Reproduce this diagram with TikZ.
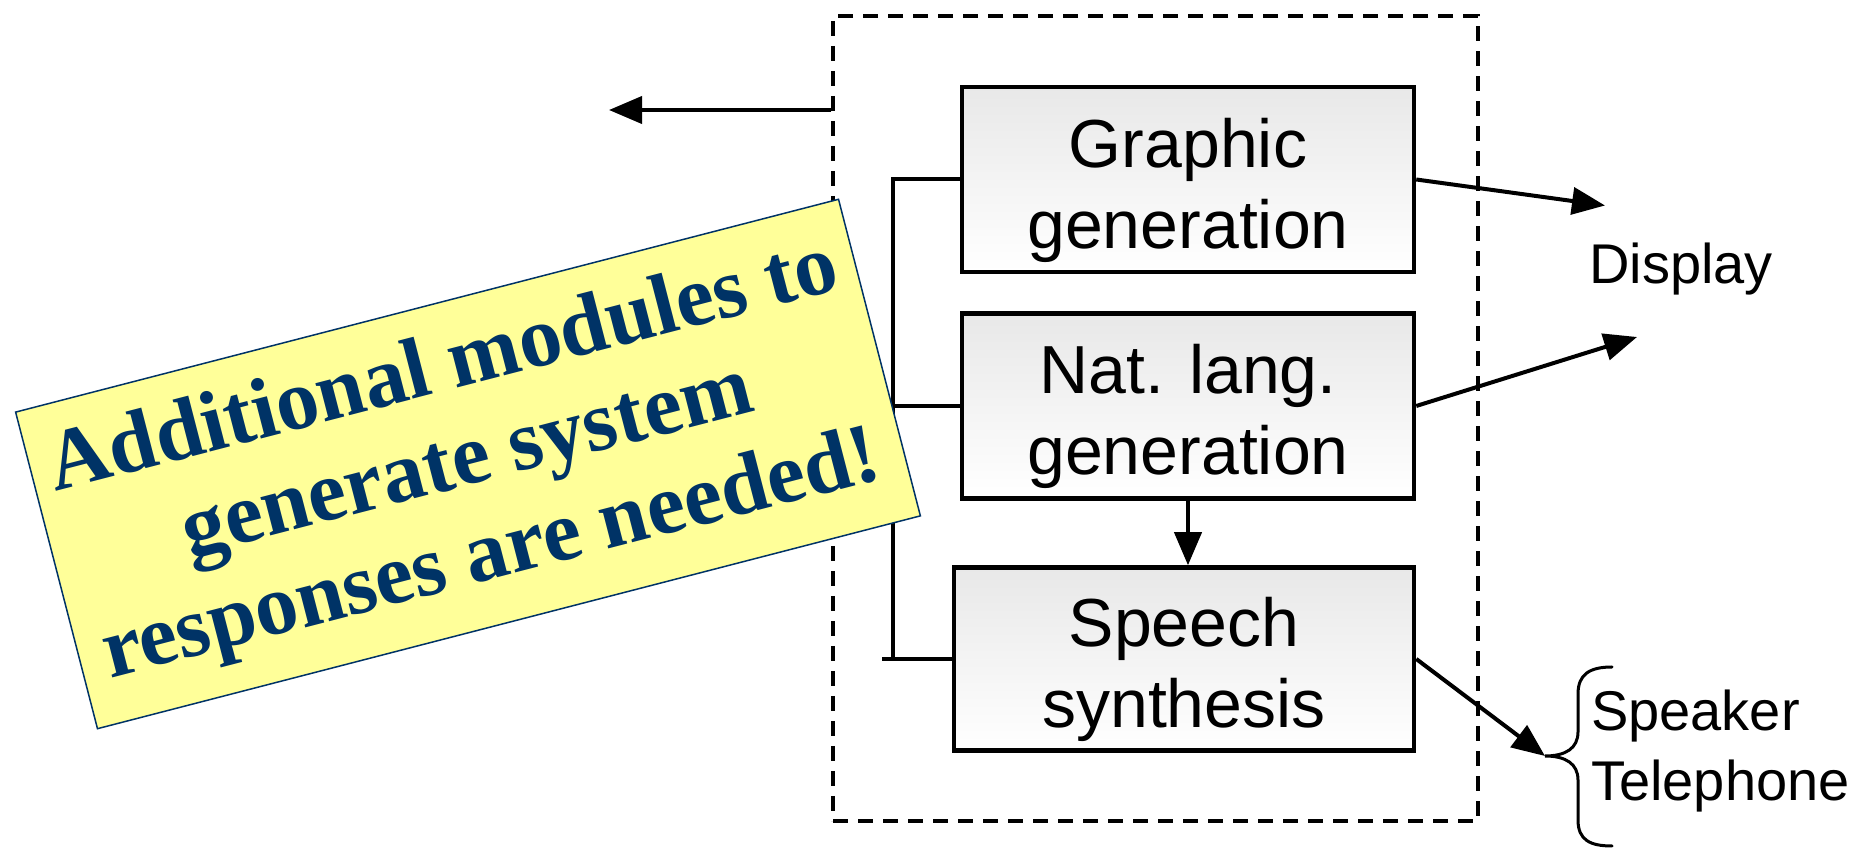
\documentclass[tikz,border=0pt]{standalone}
\usepackage{fontspec}
\setmainfont{Liberation Sans}
\newfontfamily\notefont{Liberation Serif}
\usetikzlibrary{arrows.meta,calc}
\definecolor{navy}{HTML}{003366}
\definecolor{noteyellow}{HTML}{FFFF99}
\begin{document}
\begin{tikzpicture}[x=1pt,y=1pt,
  module/.style={draw, line width=4.5pt, top color=gray!18, bottom color=white,
    minimum width=452pt, minimum height=185pt, inner sep=0pt},
  modtext/.style={align=center, inner sep=0pt, font=\fontsize{68}{81}\selectfont},
  frame/.style={draw, line width=3.5pt, dash pattern=on 15pt off 10pt,
    minimum width=645pt, minimum height=805pt, inner sep=0pt},
  conn/.style={line width=4pt},
  arr/.style={conn, -{Triangle[length=33pt,width=27pt]}},
  label/.style={font=\fontsize{56}{70}\selectfont, align=left, inner sep=0pt},
  note/.style={draw=navy, line width=1.5pt, fill=noteyellow, text=navy,
    minimum width=850pt, minimum height=327pt, align=center, inner sep=0pt,
    font=\notefont\bfseries\fontsize{86}{97}\selectfont},
]
\useasboundingbox (0,0) rectangle (1874,848);

% dashed frame around the generation modules
\node[frame] (frame) at (1155.5,429.5) {};

% the three generation modules, text set slightly low in each box
\node[module] (G) at (1188,668.5) {};
\node[module] (N) at (1188,442) {};
\node[module, minimum width=460pt, minimum height=183pt] (S) at (1184,189) {};
\node[modtext] (Gt) at ($(G.center)+(0,-10.5)$) {Graphic\\generation};
\node[modtext] (Nt) at ($(N.center)+(0,-10.5)$) {Nat. lang.\\generation};
\node[modtext] (St) at ($(S.center)+(0,-10.5)$) {Speech\\synthesis};

% outgoing arrow on the left
\coordinate (outL) at (609,738);
\draw[arr] (frame.west |- outL) -- (outL);

% common input bus on the left of the modules
\draw[conn] (G.west) -- ++(-67,0) coordinate (bt) -- (bt |- S.west) coordinate (bb);
\draw[conn] (S.west) -- ($(bb)+(-11,0)$);
\draw[conn] (N.west) -- (N.west -| bt);

% internal flow
\draw[arr] (N.south) -- (N.south |- S.north);

% outputs
\coordinate (dA) at (1605,642.5);
\coordinate (dB) at (1637,511);
\coordinate (tip) at (1545,92);
\draw[arr] (G.east) -- (dA);
\draw[arr] (N.east) -- (dB);
\draw[arr] (S.east) -- (tip);

\node[label] (disp) at (1681,579) {Display};

% brace grouping the audio devices
\draw[line width=3pt, line cap=round]
  (1612,181) .. controls (1590,181) and (1578,174) .. (1578,154)
  -- (1578,116) .. controls (1578,100) and (1566,92) .. (tip)
  .. controls (1566,92) and (1578,84) .. (1578,68)
  -- (1578,28) .. controls (1578,8) and (1590,2) .. (1612,2);
\node[label, anchor=west] (spk) at (1591,97) {Speaker\\Telephone};

% sticky note on top
\node[note, rotate=14.5] (memo) at (468,384) {Additional modules to\\generate system\\responses are needed!};
\end{tikzpicture}
\end{document}
